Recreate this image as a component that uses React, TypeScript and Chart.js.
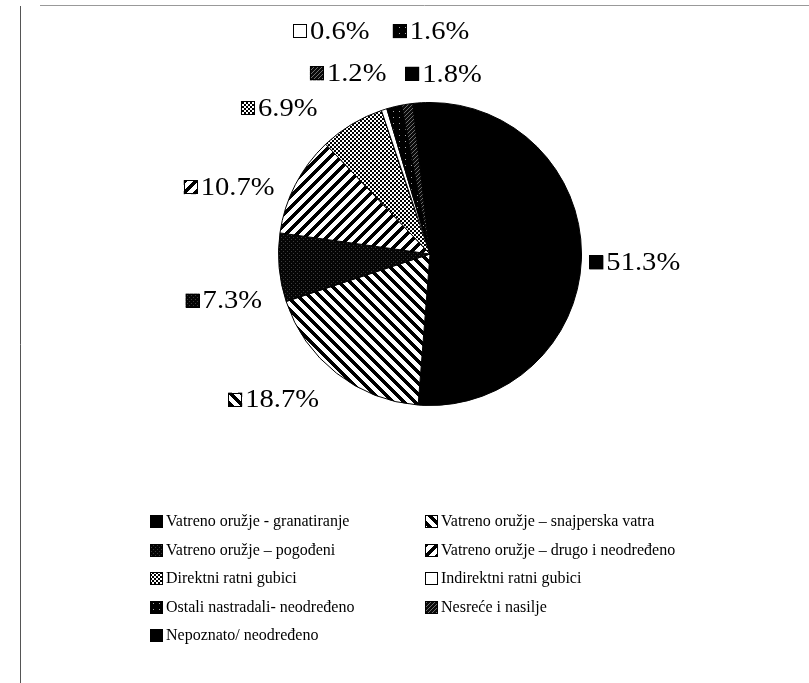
import React, { useEffect, useRef } from 'react';
import { Chart, registerables } from 'chart.js';

Chart.register(...registerables);

// ---- data ----
const categories = [
  'Vatreno oružje - granatiranje',
  'Vatreno oružje – snajperska vatra',
  'Vatreno oružje – pogođeni',
  'Vatreno oružje – drugo i neodređeno',
  'Direktni ratni gubici',
  'Indirektni ratni gubici',
  'Ostali nastradali- neodređeno',
  'Nesreće i nasilje',
  'Nepoznato/ neodređeno',
];
const percentages = [51.3, 18.7, 7.3, 10.7, 6.9, 0.6, 1.6, 1.2, 1.8];
const valueLabels = ['51.3%', '18.7%', '7.3%', '10.7%', '6.9%', '0.6%', '1.6%', '1.2%', '1.8%'];

// label placement nudges (px) relative to the default outside position
const labelNudgeX = [-4, -10, -5, -10, -28, -11, 78, -19, 61];
const labelNudgeY = [2, 17, 32, 8, -6, -67, -64, -19, -17];

type PatFn = (x: number, y: number) => number;

function makePattern(ctx: CanvasRenderingContext2D, size: number, fn: PatFn): CanvasPattern | string {
  const tile = document.createElement('canvas');
  tile.width = size;
  tile.height = size;
  const tctx = tile.getContext('2d')!;
  const img = tctx.createImageData(size, size);
  for (let y = 0; y < size; y++) {
    for (let x = 0; x < size; x++) {
      const g = fn(x, y);
      const k = (y * size + x) * 4;
      img.data[k] = g;
      img.data[k + 1] = g;
      img.data[k + 2] = g;
      img.data[k + 3] = 255;
    }
  }
  tctx.putImageData(img, 0, 0);
  return ctx.createPattern(tile, 'repeat') || '#000';
}

function buildPatterns(ctx: CanvasRenderingContext2D) {
  const mod = (a: number, n: number) => ((a % n) + n) % n;
  return [
    '#000000',
    makePattern(ctx, 11, (x, y) => (mod(x - y, 11) < 5 ? 0 : 255)),
    makePattern(ctx, 4, (x, y) => ((x === 1 && y === 1) || (x === 3 && y === 3) ? 60 : 5)),
    makePattern(ctx, 11, (x, y) => (mod(x + y, 11) < 5 ? 0 : 255)),
    makePattern(ctx, 4, (x, y) => ((Math.floor(x / 2) + Math.floor(y / 2)) % 2 === 0 ? 0 : 255)),
    '#ffffff',
    makePattern(ctx, 6, (x, y) => (x === 3 && y === 3 ? 170 : 0)),
    makePattern(ctx, 4, (x, y) => ((x + y) % 4 === 0 ? 110 : 10)),
    '#000000',
  ];
}

const SERIF = '"Liberation Serif", "Times New Roman", serif';

export default function App() {
  const ref = useRef<HTMLCanvasElement | null>(null);

  useEffect(() => {
    const canvas = ref.current!;
    const ctx0 = canvas.getContext('2d')!;
    const patterns = buildPatterns(ctx0);

    const framePlugin = {
      id: 'frame',
      beforeDraw(chart: any) {
        const ctx = chart.ctx as CanvasRenderingContext2D;
        ctx.save();
        ctx.fillStyle = '#ffffff';
        ctx.fillRect(0, 0, chart.width, chart.height);
        ctx.strokeStyle = '#555';
        ctx.lineWidth = 1;
        ctx.beginPath();
        ctx.moveTo(20.5, 6);
        ctx.lineTo(20.5, chart.height);
        ctx.stroke();
        ctx.strokeStyle = '#999';
        ctx.beginPath();
        ctx.moveTo(40, 5.5);
        ctx.lineTo(chart.width, 5.5);
        ctx.stroke();
        ctx.restore();
      },
    };

    const labelPlugin = {
      id: 'pctLabels',
      afterDraw(chart: any) {
        const ctx = chart.ctx as CanvasRenderingContext2D;
        const meta = chart.getDatasetMeta(0);
        ctx.save();
        const fontSize = 26;
        const sx = 1.1;
        const box = 14;
        const gap = 3;
        ctx.font = `${fontSize}px ${SERIF}`;
        ctx.textBaseline = 'middle';
        meta.data.forEach((arc: any, i: number) => {
          const p = arc.getProps(['x', 'y', 'startAngle', 'endAngle', 'outerRadius'], true);
          const mid = (p.startAngle + p.endAngle) / 2;
          const dx = Math.cos(mid);
          const dy = Math.sin(mid);
          const px = p.x + dx * (p.outerRadius + 12) + labelNudgeX[i];
          const py = p.y + dy * (p.outerRadius + 12) + labelNudgeY[i];
          const text = valueLabels[i];
          const tw = ctx.measureText(text).width * sx;
          const gw = box + gap + tw;
          const left = dx >= 0 ? px : px - gw;
          ctx.fillStyle = patterns[i] as any;
          ctx.fillRect(left, py - box / 2, box, box);
          ctx.strokeStyle = '#000';
          ctx.lineWidth = 1;
          ctx.strokeRect(Math.round(left) + 0.5, Math.round(py - box / 2) + 0.5, box - 1, box - 1);
          ctx.save();
          ctx.translate(left + box + gap, py + 1);
          ctx.scale(sx, 1);
          ctx.fillStyle = '#000';
          ctx.fillText(text, 0, 0);
          ctx.restore();
        });
        ctx.restore();
      },
    };

    const legendPlugin = {
      id: 'gridLegend',
      afterDraw(chart: any) {
        const ctx = chart.ctx as CanvasRenderingContext2D;
        ctx.save();
        ctx.font = `16px ${SERIF}`;
        ctx.textBaseline = 'middle';
        const left = 150;
        const colW = 275;
        const top = 521;
        const rowH = 28.5;
        const box = 13;
        categories.forEach((c, i) => {
          const col = i % 2;
          const row = Math.floor(i / 2);
          const x = left + col * colW;
          const y = Math.round(top + row * rowH);
          ctx.fillStyle = patterns[i] as any;
          ctx.fillRect(x, y - 6, box, box);
          ctx.strokeStyle = '#000';
          ctx.lineWidth = 1;
          ctx.strokeRect(x + 0.5, y - 6 + 0.5, box - 1, box - 1);
          ctx.fillStyle = '#000';
          ctx.fillText(c, x + box + 3, y + 1);
        });
        ctx.restore();
      },
    };

    const chart = new Chart(canvas, {
      type: 'pie',
      data: {
        labels: categories,
        datasets: [
          {
            data: percentages,
            backgroundColor: patterns as any,
            borderColor: '#000000',
            borderWidth: 1,
          },
        ],
      },
      options: {
        responsive: false,
        animation: false,
        devicePixelRatio: 1,
        layout: { padding: { left: 278, right: 227, top: 102, bottom: 277 } },
        plugins: {
          legend: { display: false },
          tooltip: { enabled: false },
        },
      },
      plugins: [framePlugin, labelPlugin, legendPlugin],
    });

    return () => chart.destroy();
  }, []);

  return (
    <div style={{ position: 'absolute', left: 0, top: 0, width: 809, height: 683, background: '#fff' }}>
      <canvas ref={ref} width={809} height={683} style={{ display: 'block', width: 809, height: 683 }} />
    </div>
  );
}
